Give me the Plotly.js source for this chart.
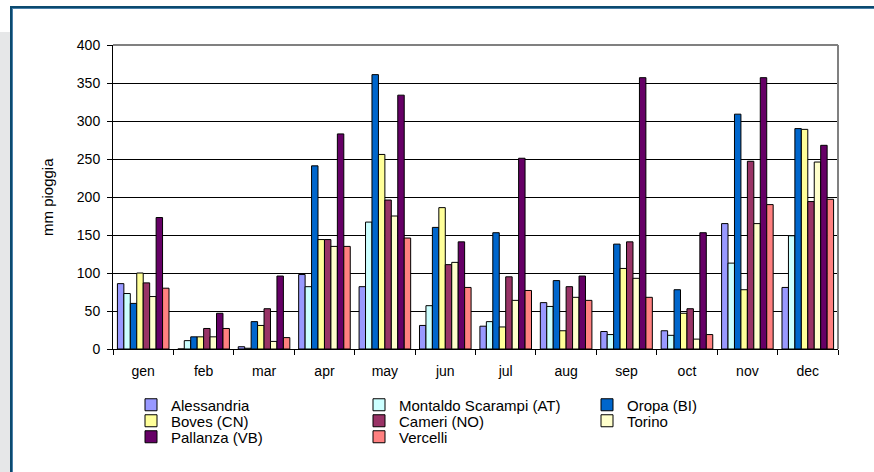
<!DOCTYPE html>
<html>
<head>
<meta charset="utf-8">
<script src="https://cdn.plot.ly/plotly-3.0.1.min.js"></script>
<style>
  html, body { margin: 0; padding: 0; background: #ffffff; }
  #wrap { position: relative; width: 874px; height: 472px; overflow: hidden; }
  #strip { position: absolute; left: 0; top: 32px; width: 10px; height: 440px; background: #e6e7e8; }
  #frame { position: absolute; left: 10px; top: 6px; width: 880px; height: 480px;
           border-top: 2px solid #0b4a6f; border-left: 2px solid #0b4a6f; }
  #frame2 { position: absolute; left: 12px; top: 8px; width: 880px; height: 480px;
            border-top: 1px solid #4a7fa8; border-left: 1px solid #4a7fa8; }
  #chart { position: absolute; left: 0; top: 0; width: 874px; height: 472px; }
</style>
</head>
<body>
<div id="wrap">
  <div id="strip"></div>
  <div id="frame"></div>
  <div id="frame2"></div>
  <div id="chart"></div>
</div>
<script>
// months
const months = ['gen', 'feb', 'mar', 'apr', 'may', 'jun', 'jul', 'aug', 'sep', 'oct', 'nov', 'dec'];

// mm of rain per station
const alessandria = [86, 0, 3, 98, 82, 31, 30, 61, 23, 24, 165, 81];
const montaldo    = [73, 11, 1, 82, 167, 57, 36, 56, 19, 18, 113, 149];
const oropa       = [60, 16, 36, 241, 361, 160, 153, 90, 138, 78, 309, 290];
const boves       = [100, 16, 31, 144, 256, 186, 29, 24, 106, 47, 78, 289];
const cameri      = [87, 27, 53, 144, 196, 111, 95, 82, 141, 53, 247, 194];
const torino      = [69, 16, 10, 135, 175, 114, 64, 68, 93, 13, 165, 246];
const pallanza    = [173, 47, 96, 283, 334, 141, 251, 96, 357, 153, 357, 268];
const vercelli    = [80, 27, 15, 135, 146, 81, 77, 64, 68, 19, 190, 197];

const seriesNames = ['Alessandria', 'Montaldo Scarampi (AT)', 'Oropa (BI)', 'Boves (CN)',
                     'Cameri (NO)', 'Torino', 'Pallanza (VB)', 'Vercelli'];
const seriesValues = [alessandria, montaldo, oropa, boves, cameri, torino, pallanza, vercelli];
const seriesColors = ['#9999ff', '#ccffff', '#0066cc', '#ffff99', '#993366', '#ffffcc', '#660066', '#ff8080'];
// one horizontal legend per legend row
const legendRow = ['legend', 'legend', 'legend', 'legend2', 'legend2', 'legend2', 'legend3', 'legend3'];

const traces = seriesNames.map((name, i) => ({
  type: 'bar',
  name: name,
  x: months,
  y: seriesValues[i],
  legend: legendRow[i],
  marker: { color: seriesColors[i], line: { color: '#000000', width: 1 } }
}));

const fam = '"Liberation Sans", Arial, sans-serif';
const tickFont = { family: fam, size: 14, color: '#000000' };

const legendBase = {
  xref: 'container', yref: 'container',
  x: 131 / 874,
  xanchor: 'left', yanchor: 'middle',
  orientation: 'h',
  entrywidth: 183, entrywidthmode: 'pixels',
  bgcolor: 'rgba(0,0,0,0)',
  font: { family: fam, size: 15, color: '#000' },
  itemwidth: 30
};

const layout = {
  width: 874,
  height: 472,
  paper_bgcolor: 'rgba(0,0,0,0)',
  plot_bgcolor: '#ffffff',
  font: tickFont,
  margin: { l: 113, r: 36, t: 45, b: 123, autoexpand: false },
  barmode: 'group',
  bargap: 0.146,
  bargroupgap: 0,
  showlegend: true,
  legend: { ...legendBase, y: 1 - 405 / 472 },
  legend2: { ...legendBase, y: 1 - 421 / 472 },
  legend3: { ...legendBase, y: 1 - 437 / 472 },
  xaxis: {
    type: 'category',
    showline: true, linecolor: '#000', linewidth: 1,
    ticks: 'outside', tickson: 'boundaries', ticklen: 5, tickcolor: '#000',
    ticklabelstandoff: 9,
    showgrid: false, zeroline: false,
    tickfont: tickFont
  },
  yaxis: {
    range: [0, 400], dtick: 50,
    showline: true, linecolor: '#000', linewidth: 1,
    ticks: 'outside', ticklen: 5, tickcolor: '#000',
    ticklabelstandoff: 4,
    showgrid: true, gridcolor: '#000000', gridwidth: 1,
    zeroline: false,
    tickfont: tickFont
  },
  annotations: [
    { text: 'mm pioggia', xref: 'paper', yref: 'paper', x: (47 - 113) / 725, y: 0.5,
      textangle: -90, showarrow: false, xanchor: 'center', yanchor: 'middle',
      font: { family: fam, size: 15, color: '#000' } }
  ],
  shapes: [
    { type: 'line', xref: 'paper', yref: 'paper', x0: 0, x1: 1, y0: 1, y1: 1, line: { color: '#808080', width: 2 } },
    { type: 'line', xref: 'paper', yref: 'paper', x0: 1, x1: 1, y0: 0, y1: 1, line: { color: '#808080', width: 2 } }
  ]
};

Plotly.newPlot('chart', traces, layout, { displayModeBar: false, staticPlot: true });
</script>
</body>
</html>
